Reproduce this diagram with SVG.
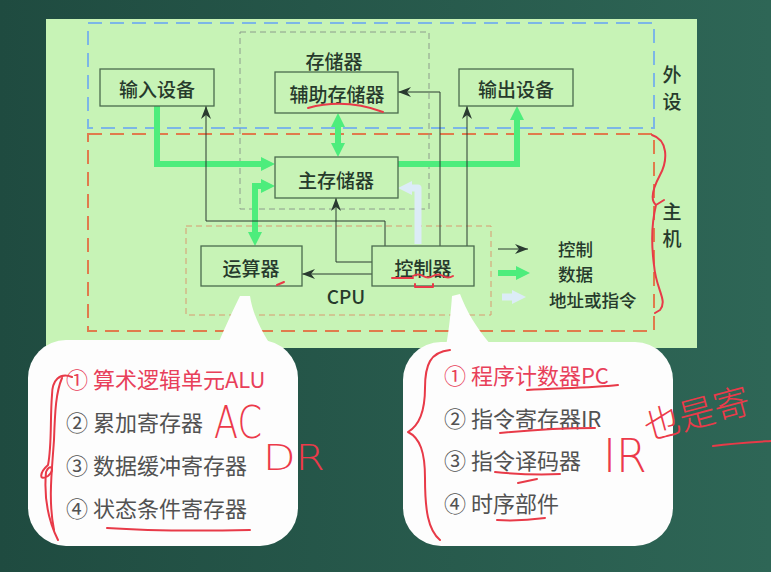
<svg xmlns="http://www.w3.org/2000/svg" width="771" height="572" viewBox="0 0 771 572">
<defs>
<linearGradient id="bg" x1="0" y1="0" x2="1" y2="0">
<stop offset="0" stop-color="#1f4b40"/>
<stop offset="1" stop-color="#2e6656"/>
</linearGradient>
<marker id="ab" markerUnits="userSpaceOnUse" markerWidth="13" markerHeight="10" viewBox="0 0 13 10" refX="13" refY="5" orient="auto">
<path d="M0,0 L13,5 L0,10 L4,5 Z" fill="#2a3a30"/>
</marker>
<marker id="ag" markerUnits="userSpaceOnUse" markerWidth="14" markerHeight="14" viewBox="0 0 14 14" refX="4" refY="7" orient="auto-start-reverse">
<path d="M0,0 L14,7 L0,14 Z" fill="#4ded7c"/>
</marker>
<marker id="aw" markerUnits="userSpaceOnUse" markerWidth="14" markerHeight="14" viewBox="0 0 14 14" refX="4" refY="7" orient="auto">
<path d="M0,0 L14,7 L0,14 Z" fill="#dcecf7"/>
</marker>
</defs>
<style>
.box{fill:none;stroke:#4b6b4e;stroke-width:1.3}
.lbl{font-family:"Noto Sans CJK SC","Noto Sans",sans-serif;font-size:19px;font-weight:500;fill:#263a2c;text-anchor:middle;dominant-baseline:central}
.leg{font-size:17.5px;text-anchor:start}
.ctl{fill:none;stroke:#2a3a30;stroke-width:1}
.dat{fill:none;stroke:#4ded7c;stroke-width:6}
.adr{fill:none;stroke:#dcecf7;stroke-width:7;stroke-linejoin:round}
.item{font-family:"Noto Sans CJK SC","Noto Sans",sans-serif;font-size:22px;fill:#525252}
.red{fill:#e8405a}
.hw{fill:none;stroke:#e83a48;stroke-width:2;stroke-linecap:round;stroke-linejoin:round}
.hwt{font-family:"DejaVu Sans","Noto Sans CJK SC",sans-serif;fill:#ec3a4a;font-weight:200}
.bubble{fill:#fdfdfd}
</style>
<rect x="0" y="0" width="771" height="572" fill="url(#bg)"/>
<rect x="46" y="19" width="651" height="329" fill="#c7f3b6"/>

<g id="regions">
<rect x="88" y="23" width="566" height="105" fill="none" stroke="#7cb6e6" stroke-width="2" stroke-dasharray="14 8"/>
<rect x="88" y="134" width="566" height="197" fill="none" stroke="#e07b4c" stroke-width="2" stroke-dasharray="14 8"/>
<rect x="240" y="32" width="189" height="177" fill="none" stroke="#8c9c8c" stroke-width="1" stroke-dasharray="6 4"/>
<rect x="186" y="226" width="305" height="89" fill="none" stroke="#d89a70" stroke-width="1" stroke-dasharray="6 4"/>
<text class="lbl" x="334" y="60">存储器</text>
<text class="lbl" x="672" y="73" font-size="18">外</text>
<text class="lbl" x="672" y="100" font-size="18">设</text>
<text class="lbl" x="672" y="210" font-size="18">主</text>
<text class="lbl" x="672" y="237" font-size="18">机</text>
<text class="lbl" x="346" y="295" font-weight="700" font-family="Noto Sans, sans-serif">CPU</text>
</g>

<g id="connectors">
<path class="dat" d="M157,106 V164 H265" marker-end="url(#ag)"/>
<path class="dat" d="M398,164 H517 V116" marker-end="url(#ag)"/>
<path class="dat" d="M338,123 V147" marker-start="url(#ag)" marker-end="url(#ag)"/>
<path class="dat" d="M265,186 H255 V236" marker-start="url(#ag)" marker-end="url(#ag)"/>
<path class="adr" d="M418,244 V188 H408" marker-end="url(#aw)"/>
<path class="ctl" d="M372,274 H302" marker-end="url(#ab)"/>
<path class="ctl" d="M372,262 H336 V198" marker-end="url(#ab)"/>
<path class="ctl" d="M385,246 V221 H206 V106" marker-end="url(#ab)"/>
<path class="ctl" d="M440,246 V92 H398" marker-end="url(#ab)"/>
<path class="ctl" d="M467,246 V106" marker-end="url(#ab)"/>
</g>

<g id="input"><rect class="box" x="100" y="69" width="114" height="37"/><text class="lbl" x="157" y="88">输入设备</text></g>
<g id="aux"><rect class="box" x="275" y="72" width="123" height="41"/><text class="lbl" x="337" y="93">辅助存储器</text></g>
<g id="output"><rect class="box" x="459" y="69" width="114" height="37"/><text class="lbl" x="516" y="88">输出设备</text></g>
<g id="main"><rect class="box" x="275" y="157" width="123" height="41"/><text class="lbl" x="336" y="179">主存储器</text></g>
<g id="alu"><rect class="box" x="201" y="246" width="101" height="40"/><text class="lbl" x="251" y="267">运算器</text></g>
<g id="cu"><rect class="box" x="372" y="246" width="102" height="40"/><text class="lbl" x="423" y="267">控制器</text></g>

<g id="legend">
<path class="ctl" d="M498,249 H528" marker-end="url(#ab)"/>
<path class="dat" d="M498,273 H520" marker-end="url(#ag)"/>
<path class="adr" d="M502,297 H516" marker-end="url(#aw)"/>
<text class="lbl leg" x="558" y="248">控制</text>
<text class="lbl leg" x="558" y="273.5">数据</text>
<text class="lbl leg" x="549" y="299">地址或指令</text>
</g>

<g id="bubble-alu">
<rect class="bubble" x="28" y="340" width="270" height="206" rx="38"/>
<path class="bubble" d="M218,344 C226,325 234,308 240,296 L250,296 C252,310 258,325 270,344 Z"/>
<text class="item red" x="66" y="388">① 算术逻辑单元ALU</text>
<text class="item" x="66" y="431">② 累加寄存器</text>
<text class="item" x="66" y="474">③ 数据缓冲寄存器</text>
<text class="item" x="66" y="517">④ 状态条件寄存器</text>
</g>
<g id="bubble-cu">
<rect class="bubble" x="403" y="342" width="270" height="204" rx="38"/>
<path class="bubble" d="M446,346 C449,330 451,310 452,296 L460,294 C466,310 476,328 492,346 Z"/>
<text class="item red" x="444" y="384">① 程序计数器PC</text>
<text class="item" x="444" y="427">② 指令寄存器IR</text>
<text class="item" x="444" y="469">③ 指令译码器</text>
<text class="item" x="444" y="512">④ 时序部件</text>
</g>

<g id="handwriting">
<path class="hw" stroke-width="1.5" d="M308,108 Q345,98 383,112"/>
<path class="hw" stroke-width="1.5" d="M392,278 H413 M413,276 q5,-3 10,0 t10,0 t10,0 t10,0"/>
<path class="hw" stroke-width="1.2" stroke="#e07b4c" d="M415,284 v3 h18 v-3"/>
<path class="hw" stroke-width="1.2" d="M277,285 l7,-3"/>
<path class="hw" d="M652,135 C668,140 668,160 660,175 C652,190 650,200 656,205 L664,200 M656,205 C650,230 652,250 654,265 C656,290 668,300 660,310 L655,313"/>
<path class="hw" d="M72,377 C60,372 52,380 52,395 C50,420 52,445 48,465 C40,472 38,482 48,476 C56,470 50,462 46,472 C44,495 48,520 58,540"/>
<path class="hw" d="M62,378 C56,392 55,410 54,440 C52,470 48,500 54,530"/>
<path class="hw" d="M107,528 C150,531 200,531 250,530"/>
<path class="hw" d="M450,350 C430,352 425,365 425,388 C425,410 420,425 408,432 C420,438 425,452 425,478 C425,510 428,530 440,540"/>
<path class="hw" d="M527,390 C560,388 590,388 618,385"/>
<path class="hw" d="M500,433 C530,430 565,428 595,428"/>
<path class="hw" d="M495,472 C515,474 540,475 560,474 M518,483 L537,479"/>
<path class="hw" d="M497,520 C512,521 530,520 545,518"/>
<path class="hw" d="M713,446 C735,443 755,442 771,441"/>
<text class="hwt" x="214" y="438" font-size="44" textLength="48" lengthAdjust="spacingAndGlyphs">AC</text>
<text class="hwt" x="263" y="470" font-size="36" textLength="62" lengthAdjust="spacingAndGlyphs">DR</text>
<text class="hwt" x="603" y="472" font-size="46" textLength="44" lengthAdjust="spacingAndGlyphs">IR</text>
<text class="hwt" x="648" y="440" font-size="36" transform="rotate(-15 648 440)">也是寄</text>
</g>
</svg>
